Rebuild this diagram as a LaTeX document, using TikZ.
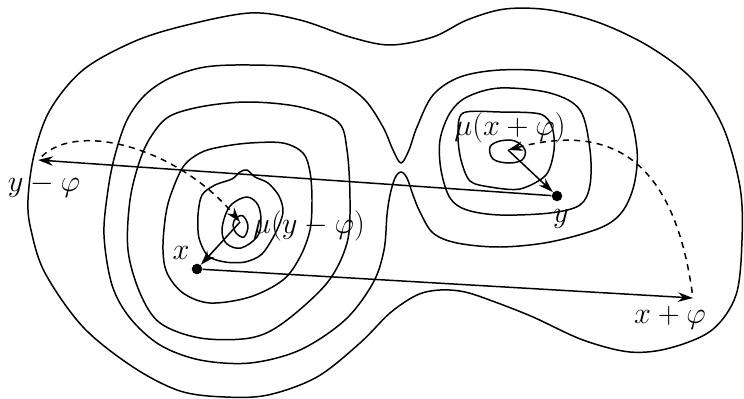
\documentclass[tikz,border=0pt]{standalone}
\usepackage{amsmath}
\usepackage{tikz}
\usetikzlibrary{arrows.meta, positioning}
\tikzset{
	contour/.style   ={line width=0.85pt, line join=round},
	pointdot/.style  ={circle, fill=black, inner sep=0pt, minimum size=6pt},
	transarrow/.style={-{Stealth[length=3mm, width=1.9mm]}, line width=0.85pt},
	projarrow/.style ={-{Stealth[length=3mm, width=1.9mm]}, line width=0.85pt, dash pattern=on 3.5pt off 3pt},
	lbl/.style       ={inner sep=0pt, font=\LARGE},
}
\begin{document}
\begin{tikzpicture}[x=0.02cm, y=-0.02cm]
	\useasboundingbox (0,0) rectangle (744,399);
	% level sets
	\draw[contour] plot[smooth cycle, tension=0.55] coordinates {(28,200) (34,155) (50,110) (83,70) (133,42) (183,26) (250,13) (300,20) (350,37) (390,45) (433,37) (467,20) (505,9) (550,10) (600,23) (650,47) (693,80) (723,127) (740,187) (742,240) (736,295) (712,330) (670,348) (630,352) (583,340) (533,317) (495,302) (465,292) (440,290) (417,295) (390,313) (360,343) (317,377) (268,395) (225,397) (180,391) (133,367) (83,327) (45,273) (31,230)};
	\draw[contour] plot[smooth cycle, tension=0.55] coordinates {(250,65) (300,68) (340,82) (365,100) (383,127) (393,150) (401,163) (409,150) (417,127) (433,95) (460,77) (500,70) (550,72) (600,87) (627,110) (637,150) (634,185) (622,212) (600,228) (550,242) (500,247) (457,243) (433,233) (420,212) (413,195) (407,178) (401,172) (395,178) (390,195) (387,215) (384,250) (373,283) (345,320) (300,350) (250,363) (200,360) (160,345) (130,318) (112,285) (104,235) (108,190) (115,155) (127,120) (145,95) (170,78) (205,67)};
	% left well
	\draw[contour] plot[smooth cycle, tension=0.55] coordinates {(250,102) (300,107) (338,122) (347,150) (350,200) (347,243) (327,283) (283,323) (250,338) (200,338) (160,323) (140,293) (128,250) (130,200) (140,160) (152,135) (170,116) (205,106)};
	\draw[contour] plot[smooth cycle, tension=0.55] coordinates {(250,143) (283,143) (303,153) (310,172) (312,200) (310,230) (300,257) (283,280) (250,297) (210,303) (183,293) (167,273) (163,250) (165,220) (170,197) (183,167) (200,153) (220,147)};
	\draw[contour] plot[smooth cycle, tension=0.5] coordinates {(247,170) (255,177) (268,183) (279,196) (283,212) (276,232) (262,254) (245,262) (225,262) (208,256) (199,238) (198,215) (202,195) (215,185) (232,179) (240,172)};
	\draw[contour] plot[smooth cycle, tension=0.6] coordinates {(232,204) (247,197) (258,205) (261,222) (257,237) (241,248) (227,244) (222,232) (225,216)};
	\draw[contour] plot[smooth cycle, tension=0.6] coordinates {(236,218) (243,216) (248,226) (244,237) (236,233) (233,225)};
	% right well
	\draw[contour] plot[smooth cycle, tension=0.55] coordinates {(500,88) (550,93) (580,110) (590,150) (590,185) (580,205) (550,213) (500,215) (467,210) (450,198) (441,170) (440,140) (450,113) (467,97)};
	\draw[contour] plot[smooth cycle, tension=0.5] coordinates {(463,113) (500,112) (540,114) (552,127) (554,150) (546,175) (520,189) (490,187) (470,181) (461,160) (458,135)};
	\draw[contour] plot[smooth cycle, tension=0.6] coordinates {(490,147) (500,141) (515,141) (525,150) (522,160) (508,163) (493,159)};

	% points
	\node[pointdot] (ptx) at (197,269) {};
	\node[pointdot] (pty) at (557,196) {};
	\coordinate (ymphi) at (38,160);
	\coordinate (xpphi) at (693,298);
	\coordinate (muy) at (240,222);
	\coordinate (mux) at (508,150);

	\node[lbl] (lx) at (181,253) {$x$};
	\node[lbl] (ly) at (561,219) {$y$};
	\node[lbl] (lymphi) at (44,186) {$y-\varphi$};
	\node[lbl] (lxpphi) at (670,318) {$x+\varphi$};
	\node[lbl] (lmuy) at (309,226) {$\mu(y-\varphi)$};
	\node[lbl] (lmux) at (510,128) {$\mu(x+\varphi)$};

	% translations and their images under mu
	\draw[transarrow] (ptx) -- (xpphi);
	\draw[transarrow] (pty) -- (ymphi);
	\draw[transarrow] (muy) -- (ptx);
	\draw[transarrow] (mux) -- (pty);
	\draw[projarrow, shorten <=3pt] (ymphi) .. controls (80,120) and (180,150) .. (muy);
	\draw[projarrow, shorten <=3pt] (xpphi) .. controls (675,170) and (620,120) .. (mux);
\end{tikzpicture}
\end{document}
